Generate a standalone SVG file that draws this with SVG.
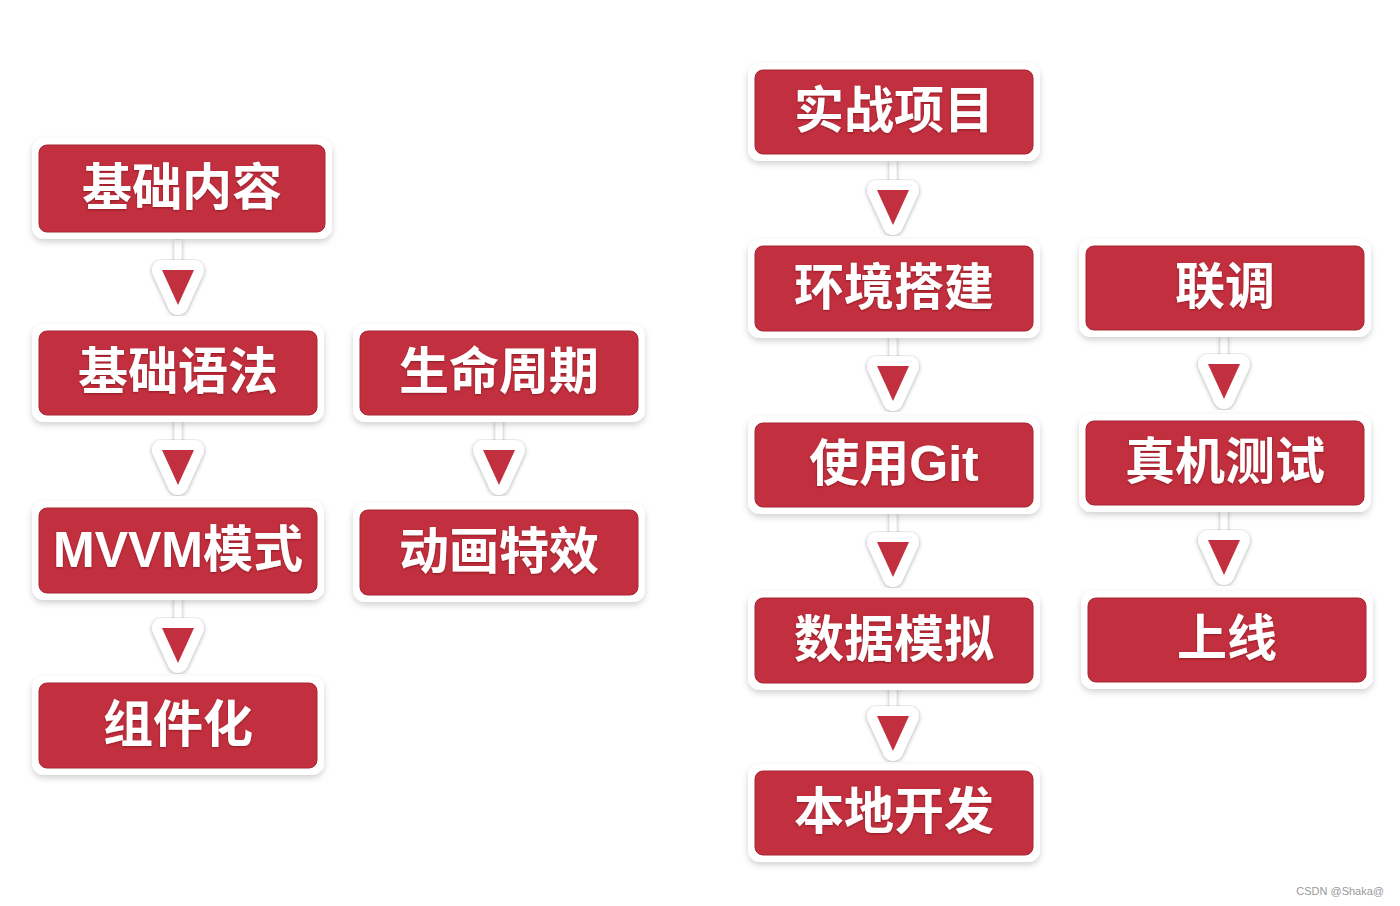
<svg xmlns="http://www.w3.org/2000/svg" width="1400" height="906" viewBox="0 0 1400 906">
<defs>
<filter id="sh" x="-10%" y="-20%" width="120%" height="150%">
<feDropShadow dx="0" dy="3" stdDeviation="3" flood-color="#000" flood-opacity="0.18"/>
</filter>
<filter id="sh2" x="-150%" y="-30%" width="400%" height="160%">
<feDropShadow dx="0" dy="1" stdDeviation="2" flood-color="#000" flood-opacity="0.35"/>
</filter>
<filter id="ts" x="-5%" y="-10%" width="110%" height="130%">
<feDropShadow dx="0" dy="1" stdDeviation="0.8" flood-color="#500" flood-opacity="0.45"/>
</filter>
<g id="arr">
<rect x="-3.5" y="-30" width="7" height="24" fill="#fff" filter="url(#sh2)"/>
<polygon points="-16,0 16,0 0,35" fill="#fff" stroke="#fff" stroke-width="20" stroke-linejoin="round" filter="url(#sh2)"/>
<polygon points="-16,0 16,0 0,35" fill="#c22f3e"/>
</g>
</defs>
<style>
.o{fill:#fff;filter:url(#sh)}
.r{fill:#c22f3e;stroke:#a82533;stroke-width:1}
.t{font-family:"Liberation Sans","Noto Sans CJK SC",sans-serif;font-weight:700;font-size:50px;fill:#fff;text-anchor:middle;dominant-baseline:central;filter:url(#ts)}
</style>
<rect width="1400" height="906" fill="#fff"/>
<g id="connectors">
<use href="#arr" x="178" y="270"/>
<use href="#arr" x="178" y="450"/>
<use href="#arr" x="178" y="628"/>
<use href="#arr" x="499" y="450"/>
<use href="#arr" x="893" y="190"/>
<use href="#arr" x="893" y="366"/>
<use href="#arr" x="893" y="542"/>
<use href="#arr" x="893" y="716"/>
<use href="#arr" x="1224" y="364"/>
<use href="#arr" x="1224" y="540"/>
</g>
<g id="n1"><rect class="o" x="32" y="138" width="300" height="101" rx="12"/><rect class="r" x="39" y="145" width="286" height="87" rx="8"/><text class="t" x="182" y="188">基础内容</text></g>
<g id="n2"><rect class="o" x="32" y="324" width="292" height="98" rx="12"/><rect class="r" x="39" y="331" width="278" height="84" rx="8"/><text class="t" x="178" y="372">基础语法</text></g>
<g id="n3"><rect class="o" x="32" y="501" width="292" height="99" rx="12"/><rect class="r" x="39" y="508" width="278" height="85" rx="8"/><text class="t" x="178" y="550">MVVM模式</text></g>
<g id="n4"><rect class="o" x="32" y="676" width="292" height="99" rx="12"/><rect class="r" x="39" y="683" width="278" height="85" rx="8"/><text class="t" x="178" y="725">组件化</text></g>
<g id="n5"><rect class="o" x="353" y="324" width="292" height="98" rx="12"/><rect class="r" x="360" y="331" width="278" height="84" rx="8"/><text class="t" x="499" y="372">生命周期</text></g>
<g id="n6"><rect class="o" x="353" y="503" width="292" height="99" rx="12"/><rect class="r" x="360" y="510" width="278" height="85" rx="8"/><text class="t" x="499" y="552">动画特效</text></g>
<g id="n7"><rect class="o" x="748" y="63" width="292" height="98" rx="12"/><rect class="r" x="755" y="70" width="278" height="84" rx="8"/><text class="t" x="894" y="111">实战项目</text></g>
<g id="n8"><rect class="o" x="748" y="239" width="292" height="99" rx="12"/><rect class="r" x="755" y="246" width="278" height="85" rx="8"/><text class="t" x="894" y="288">环境搭建</text></g>
<g id="n9"><rect class="o" x="748" y="416" width="292" height="98" rx="12"/><rect class="r" x="755" y="423" width="278" height="84" rx="8"/><text class="t" x="894" y="464">使用Git</text></g>
<g id="n10"><rect class="o" x="748" y="591" width="292" height="99" rx="12"/><rect class="r" x="755" y="598" width="278" height="85" rx="8"/><text class="t" x="894" y="640">数据模拟</text></g>
<g id="n11"><rect class="o" x="748" y="764" width="292" height="98" rx="12"/><rect class="r" x="755" y="771" width="278" height="84" rx="8"/><text class="t" x="894" y="812">本地开发</text></g>
<g id="n12"><rect class="o" x="1079" y="239" width="292" height="98" rx="12"/><rect class="r" x="1086" y="246" width="278" height="84" rx="8"/><text class="t" x="1225" y="287">联调</text></g>
<g id="n13"><rect class="o" x="1079" y="414" width="292" height="98" rx="12"/><rect class="r" x="1086" y="421" width="278" height="84" rx="8"/><text class="t" x="1225" y="462">真机测试</text></g>
<g id="n14"><rect class="o" x="1081" y="591" width="292" height="98" rx="12"/><rect class="r" x="1088" y="598" width="278" height="84" rx="8"/><text class="t" x="1227" y="639">上线</text></g>
<text x="1384" y="895" font-family="Liberation Sans, sans-serif" font-size="11" fill="#999" text-anchor="end">CSDN @Shaka@</text>
</svg>
